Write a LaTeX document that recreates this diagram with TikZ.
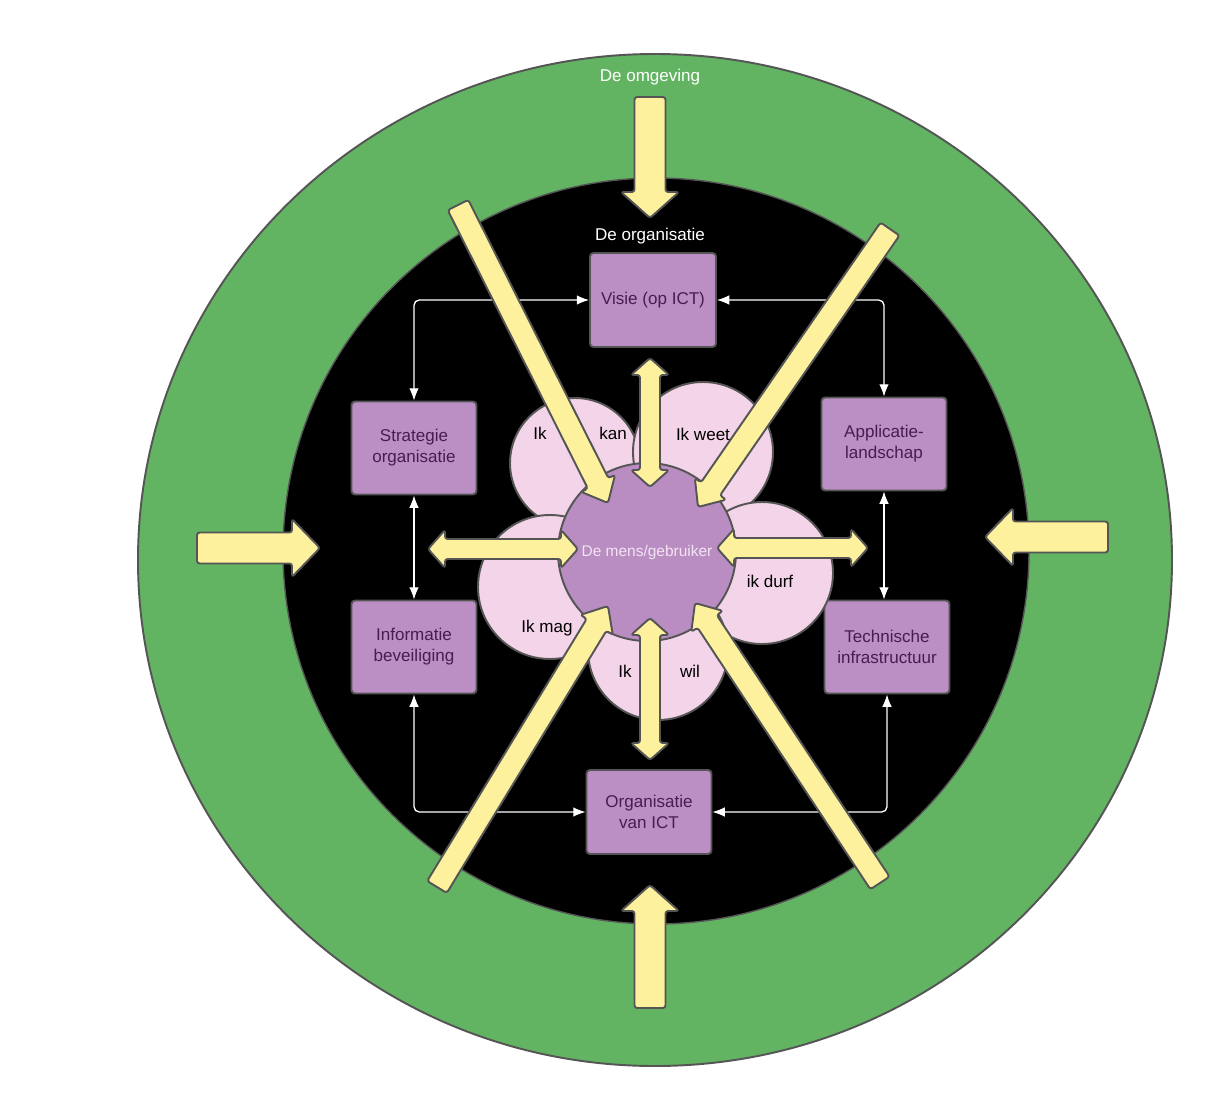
\documentclass[tikz,border=0pt]{standalone}
\usepackage{fontspec}
\setmainfont{Liberation Sans}
\usetikzlibrary{calc}
\usetikzlibrary{arrows.meta}
\usetikzlibrary{positioning}
\definecolor{ring}{RGB}{99,180,98}
\definecolor{edge}{RGB}{85,85,85}
\definecolor{arrowfill}{RGB}{254,241,158}
\definecolor{box}{RGB}{187,143,196}
\definecolor{boxtext}{RGB}{72,28,80}
\definecolor{petal}{RGB}{243,212,233}
\definecolor{mensfill}{RGB}{185,141,193}
\definecolor{menstext}{RGB}{243,228,243}

% fat arrow: tail #1, tip #2, half shaft #3, half head #4, head length #5
\newcommand{\fatarrow}[5]{%
  \coordinate (neck) at ($(#2)!#5!(#1)$);
  \draw[fat] ($(#1)!#3!90:(#2)$) -- ($(neck)!#3!-90:(#1)$) -- ($(neck)!#4!-90:(#1)$)
    -- (#2) -- ($(neck)!#4!90:(#1)$) -- ($(neck)!#3!90:(#1)$) -- ($(#1)!#3!-90:(#2)$) -- cycle;
}
% fat arrow with two heads: tip #1, tip #2, half shaft #3, half head #4, head length #5
\newcommand{\duoarrow}[5]{%
  \coordinate (neckA) at ($(#1)!#5!(#2)$);
  \coordinate (neckB) at ($(#2)!#5!(#1)$);
  \draw[fat] (#1) -- ($(neckA)!#4!90:(#2)$) -- ($(neckA)!#3!90:(#2)$)
    -- ($(neckB)!#3!-90:(#1)$) -- ($(neckB)!#4!-90:(#1)$) -- (#2)
    -- ($(neckB)!#4!90:(#1)$) -- ($(neckB)!#3!90:(#1)$)
    -- ($(neckA)!#3!-90:(#2)$) -- ($(neckA)!#4!-90:(#2)$) -- cycle;
}

\begin{document}
\begin{tikzpicture}[x=0.02cm, y=-0.02cm,
  fat/.style={draw=edge, fill=arrowfill, line width=1.1pt, rounded corners=1.5pt, line join=round},
  blok/.style={draw=edge, fill=box, line width=1.1pt, rounded corners=2pt, text=boxtext,
    align=center, minimum width=2.5cm, minimum height=1.86cm, font=\fontsize{9.7}{12}\selectfont},
  blad/.style={draw=edge, fill=petal, line width=1.1pt},
  lijn/.style={draw=white, line width=0.75pt, rounded corners=3pt,
    {Latex[length=7pt,width=5.5pt]}-{Latex[length=7pt,width=5.5pt]}},
  woord/.style={font=\fontsize{9.7}{12}\selectfont, text=black},
  kop/.style={font=\fontsize{9.7}{12}\selectfont, text=white},
]

\def\pix{0.02cm}

\fill[white] (0,0) rectangle (1205,1096);
\useasboundingbox (0,0) rectangle (1205,1096);

%---------------------------------------
% Rings
%---------------------------------------
\filldraw[fill=ring, draw=edge, line width=1.1pt] (655,560) ellipse[x radius=517, y radius=506];
\filldraw[fill=black, draw=edge, line width=0.8pt] (656,551) circle[radius=373];

\node[kop] (omgeving) at (650,77) {De omgeving};
\node[kop] (orgkop) at (650,236) {De organisatie};

%---------------------------------------
% Boxes and their links
%---------------------------------------
\node[blok, minimum width=2.52cm, minimum height=1.88cm] (visie) at (653,300) {Visie (op ICT)};
\node[blok] (strategie) at (414,448) {Strategie\\organisatie};
\node[blok] (applicatie) at (884,444) {Applicatie-\\landschap};
\node[blok] (informatie) at (414,647) {Informatie\\beveiliging};
\node[blok] (techniek) at (887,647) {Technische\\infrastructuur};
\node[blok, minimum height=1.68cm] (ictorg) at (649,812) {Organisatie\\van ICT};

\draw[lijn] (strategie.north) |- (visie.west);
\draw[lijn] (applicatie.north) |- (visie.east);
\draw[lijn] (strategie.south) -- (informatie.north);
\draw[lijn] (applicatie.south) -- (applicatie.south |- techniek.north);
\draw[lijn] (informatie.south) |- (ictorg.west);
\draw[lijn] (techniek.south) |- (ictorg.east);

%---------------------------------------
% Flower
%---------------------------------------
\filldraw[blad] (575,463) circle[radius=65];
\filldraw[blad] (703,452) circle[radius=70];
\filldraw[blad] (550,587) circle[radius=72];
\filldraw[blad] (762,573) circle[radius=71];
\filldraw[blad] (658,650) circle[radius=70];
\node[circle, draw=edge, fill=mensfill, line width=1.1pt, minimum size=3.56cm] (mens) at (647,552) {};

%---------------------------------------
% Arrows
%---------------------------------------
% from outside
\coordinate (boven-staart) at (650,97);    \coordinate (boven-punt) at (650,218);
\coordinate (onder-staart) at (650,1008);  \coordinate (onder-punt) at (650,885);
\coordinate (links-staart) at (197,548);   \coordinate (links-punt) at (320,548);
\coordinate (rechts-staart) at (1108,537); \coordinate (rechts-punt) at (985,537);
\fatarrow{boven-staart}{boven-punt}{15.5*\pix}{29*\pix}{26*\pix}
\fatarrow{onder-staart}{onder-punt}{15.5*\pix}{29*\pix}{26*\pix}
\fatarrow{links-staart}{links-punt}{15.5*\pix}{29*\pix}{28*\pix}
\fatarrow{rechts-staart}{rechts-punt}{15.5*\pix}{29*\pix}{28*\pix}

% boxes <-> mens
\duoarrow{650,358}{650,487}{10*\pix}{19*\pix}{17*\pix}
\duoarrow{650,618}{650,760}{10*\pix}{19*\pix}{17*\pix}
\duoarrow{428,549}{578,549}{10*\pix}{19*\pix}{17*\pix}
\duoarrow{717,548}{868,548}{10*\pix}{19*\pix}{17*\pix}

% diagonals
\coordinate (lb-staart) at (458,205); \coordinate (lb-punt) at (608,503);
\coordinate (rb-staart) at (890,229); \coordinate (rb-punt) at (698,507);
\coordinate (lo-staart) at (437,887); \coordinate (lo-punt) at (608,606);
\coordinate (ro-staart) at (880,883); \coordinate (ro-punt) at (695,603);
\fatarrow{lb-staart}{lb-punt}{11.5*\pix}{19*\pix}{22*\pix}
\fatarrow{rb-staart}{rb-punt}{11.5*\pix}{19*\pix}{22*\pix}
\fatarrow{lo-staart}{lo-punt}{11.5*\pix}{19*\pix}{22*\pix}
\fatarrow{ro-staart}{ro-punt}{11.5*\pix}{19*\pix}{22*\pix}

%---------------------------------------
% Words
%---------------------------------------
\node[font=\fontsize{8.8}{11}\selectfont, text=menstext] (mens-tekst) at (mens.center) {De mens/gebruiker};
\node[woord] (ik1) at (540,433) {Ik};
\node[woord] (kan) at (613,433) {kan};
\node[woord] (weet) at (703,434) {Ik weet};
\node[woord] (durf) at (770,581) {ik durf};
\node[woord] (mag) at (547,628) {Ik mag};
\node[woord] (ik2) at (625,671) {Ik};
\node[woord] (wil) at (690,671) {wil};

\end{tikzpicture}
\end{document}
